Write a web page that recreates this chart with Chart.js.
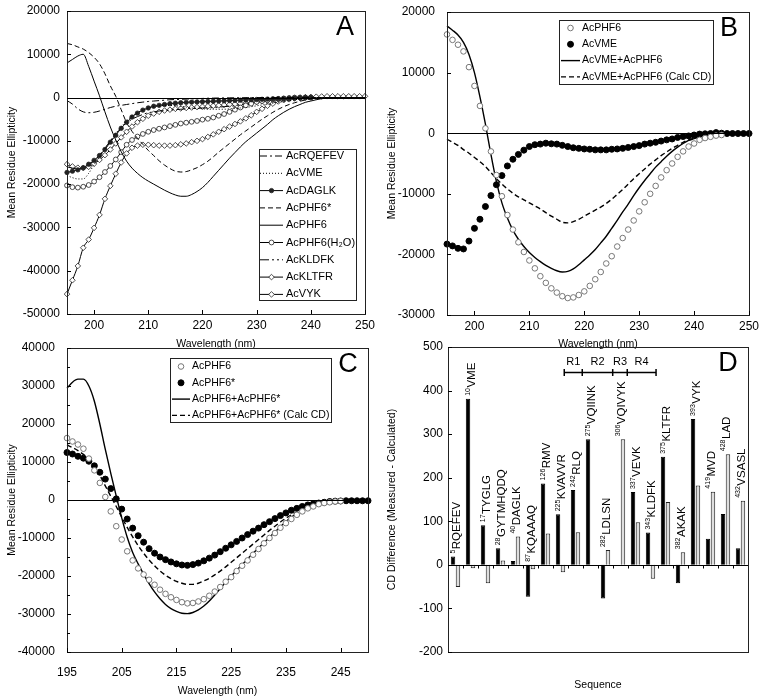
<!DOCTYPE html>
<html><head><meta charset="utf-8">
<script src="https://cdn.jsdelivr.net/npm/chart.js@4.4.1/dist/chart.umd.min.js"></script>
<style>
html,body{margin:0;padding:0;background:#fff;width:763px;height:697px;overflow:hidden}
canvas{position:absolute}
</style></head><body>
<canvas id="cA" style="left:0px;top:0px" width="380" height="350"></canvas>
<canvas id="cB" style="left:380px;top:0px" width="383" height="350"></canvas>
<canvas id="cC" style="left:0px;top:340px" width="380" height="357"></canvas>
<canvas id="cD" style="left:380px;top:340px" width="383" height="357"></canvas>
<script>
// ---------------- DATA ----------------
const wavelength = [195,196,197,198,199,200,201,202,203,204,
  205,206,207,208,209,210,211,212,213,214,
  215,216,217,218,219,220,221,222,223,224,
  225,226,227,228,229,230,231,232,233,234,
  235,236,237,238,239,240,241,242,243,244,
  245,246,247,248,249,250];
const xTicksAB = [200,210,220,230,240,250];
const xTicksC = [195,205,215,225,235,245];

// Panel A
const aRQEFEV = [-700,-1500,-2600,-3300,-3500,-3400,-3100,-2700,-2300,-2000,
  -1800,-1600,-1400,-1200,-1050,-900,-800,-700,-600,-500,
  -450,-400,-350,-300,-250,-200,-150,-120,-100,-80,
  -60,-50,-40,-30,-20,-10,0,0,0,0,
  0,0,0,0,0,0,0,0,0,0,
  0,0,0,0,0,0];
const aVME = [-18000,-18500,-18800,-18800,-17500,-15500,-13800,-11800,-10000,-8300,
  -6800,-5400,-4300,-3500,-2900,-2400,-2100,-1900,-1800,-1800,
  -1900,-2000,-2200,-2400,-2500,-2600,-2700,-2700,-2700,-2700,
  -2600,-2500,-2400,-2300,-2100,-1900,-1700,-1500,-1300,-1100,
  -900,-700,-500,-350,-200,-100,0,0,0,0,
  0,0,0,0,0,0];
const aDAGLK = [-17300,-17000,-16700,-16200,-15400,-14500,-13400,-12000,-10300,-8700,
  -7100,-5700,-4500,-3600,-2900,-2400,-2000,-1800,-1600,-1400,
  -1300,-1200,-1100,-1050,-1000,-950,-900,-850,-800,-750,
  -700,-650,-600,-550,-500,-450,-400,-350,-300,-250,
  -200,-150,-100,-50,0,0,null,null,null,null,
  null,null,null,null,null,null];
const aPHF6star = [12500,12200,11700,11200,10400,9300,7800,5500,2700,300,
  -2800,-5800,-7800,-9400,-10800,-12200,-13400,-14600,-15600,-16400,
  -17000,-17200,-17100,-16700,-16200,-15500,-14700,-13700,-12600,-11600,
  -10600,-9600,-8600,-7700,-6800,-5900,-5000,-4200,-3400,-2700,
  -2100,-1600,-1200,-850,-550,-300,-150,-50,0,0,
  0,0,0,0,0,0];
const aPHF6 = [8000,8800,9600,10000,7200,3800,400,-3300,-6800,-9800,
  -12500,-14700,-16300,-17500,-18500,-19300,-20000,-20700,-21400,-22000,
  -22500,-22800,-22800,-22400,-21700,-20800,-19600,-18200,-16800,-15400,
  -14000,-12700,-11400,-10200,-9200,-8200,-7200,-6200,-5100,-4200,
  -3400,-2700,-2100,-1600,-1100,-800,-500,-250,-100,0,
  0,0,0,0,0,0];
const aPHF6water = [-20300,-20700,-20800,-20600,-20200,-19400,-18400,-17200,-15800,-14300,
  -12600,-10900,-9800,-9000,-8400,-7900,-7500,-7200,-6900,-6600,
  -6300,-6000,-5800,-5600,-5400,-5100,-4900,-4600,-4200,-3800,
  -3300,-2800,-2300,-1800,-1400,-1000,-800,-600,-400,-300,
  -200,-100,0,0,0,0,null,null,null,null,
  null,null,null,null,null,null];
const aKLDFK = [-16000,-16300,-16500,-16300,-15500,-14500,-13200,-11700,-10000,-8500,
  -7000,-5900,-5000,-4400,-3900,-3500,-3300,-3100,-3000,-2900,
  -2800,-2700,-2600,-2500,-2500,-2400,-2400,-2300,-2200,-2100,
  -2000,-1900,-1700,-1500,-1300,-1100,-900,-750,-600,-450,
  -350,-250,-150,-100,-50,0,0,0,0,0,
  0,0,0,0,0,0];
const aKLTFR = [-15400,-15900,-16200,-16300,-16000,-15300,-14400,-13300,-12000,-10600,
  -9200,-7900,-6700,-5700,-4900,-4200,-3700,-3300,-3000,-2800,
  -2600,-2500,-2400,-2300,-2200,-2100,-2000,-1900,-1800,-1700,
  -1600,-1500,-1400,-1300,-1150,-1000,-850,-700,-550,-400,
  -300,-200,-100,0,100,150,200,250,300,300,
  300,300,300,300,300,300];
const aVYK = [-45400,-42200,-38900,-34700,-32800,-30100,-27100,-23400,-20400,-17600,
  -15000,-12900,-11600,-11100,-10900,-10900,-11000,-11100,-11100,-11100,
  -11000,-10800,-10600,-10300,-10000,-9600,-9100,-8500,-7900,-7300,
  -6700,-6100,-5500,-4800,-4100,-3300,-2600,-1900,-1400,-900,
  -600,-400,-200,-100,0,100,null,null,null,null,
  null,null,null,null,null,null];

// Panel B
const bPHF6 = [16300,15400,14600,13500,10900,7800,4500,800,-3000,-6900,
  -10400,-13500,-15900,-18000,-19600,-21000,-22300,-23600,-24700,-25600,
  -26300,-26900,-27200,-27100,-26700,-26100,-25200,-24100,-22900,-21500,
  -20300,-18700,-17300,-15900,-14400,-12900,-11400,-10000,-8700,-7300,
  -6100,-5000,-3900,-3000,-2200,-1700,-1100,-800,-600,-400,
  -300,null,null,null,null,null];
const bVME = [-18300,-18600,-19000,-19100,-17800,-15700,-14200,-12100,-10300,-8500,
  -7000,-5400,-4300,-3500,-2800,-2200,-1900,-1800,-1650,-1750,
  -1800,-2000,-2200,-2400,-2500,-2600,-2650,-2750,-2750,-2750,
  -2650,-2600,-2500,-2350,-2200,-2050,-1800,-1650,-1500,-1300,
  -1100,-950,-700,-550,-450,-300,-150,-100,-50,100,
  0,-50,-50,-50,-50,-50];
const bMixed = [17700,17000,16200,15000,13000,10000,6000,1500,-3500,-8000,
  -11500,-14000,-16000,-17500,-18700,-19700,-20500,-21200,-21800,-22300,
  -22700,-22900,-22800,-22400,-21700,-20900,-20100,-19200,-18100,-17000,
  -15700,-14400,-13000,-11700,-10300,-9000,-7800,-6700,-5600,-4700,
  -3800,-3000,-2300,-1700,-1200,-900,-600,-400,-200,-100,
  0,0,0,0,0,0];
const bCalc = [-1000,-1500,-2000,-2700,-3300,-4000,-4700,-5500,-6500,-7500,
  -8400,-9200,-9900,-10500,-11000,-11500,-12000,-12500,-13100,-13700,
  -14200,-14700,-14800,-14600,-14200,-13700,-13200,-12700,-12200,-11600,
  -10900,-10100,-9300,-8400,-7500,-6700,-5900,-5100,-4400,-3700,
  -3100,-2500,-2000,-1500,-1100,-800,-500,-300,-150,0,
  0,null,null,null,null,null];

// Panel C
const cPHF6 = bPHF6;
const cPHF6star = [12500,12100,11500,11000,10200,9000,7300,5500,3000,300,
  -2400,-5000,-7400,-9400,-11100,-12800,-14000,-15000,-15700,-16300,
  -16800,-17100,-17200,-17000,-16600,-16000,-15300,-14500,-13600,-12700,
  -11800,-10900,-10000,-9100,-8200,-7400,-6500,-5700,-4900,-4100,
  -3400,-2700,-2200,-1700,-1300,-1000,-800,-600,-400,-300,
  -250,-200,-200,-200,-200,-200];
const cMixed = [29400,31000,31800,31800,30000,26000,20000,13300,7000,1000,
  -4700,-9800,-13800,-16800,-19500,-22000,-24200,-26000,-27500,-28600,
  -29300,-29800,-29900,-29600,-28900,-27900,-26600,-25000,-23300,-21600,
  -20000,-18500,-17000,-15500,-14000,-12600,-11200,-9800,-8400,-7000,
  -5700,-4500,-3500,null,null,null,null,null,null,null,
  null,null,null,null,null,null];
const cCalc = [14500,13800,13000,12000,10800,9000,6500,3700,1000,-1700,
  -4500,-7200,-9700,-12000,-14000,-15800,-17300,-18700,-19800,-20700,
  -21400,-21900,-22200,-22200,-21900,-21300,-20600,-19700,-18700,-17600,
  -16400,-15200,-14000,-12800,-11600,-10400,-9200,-8000,-6900,-5800,
  -4800,-3900,-3100,null,null,null,null,null,null,null,
  null,null,null,null,null,null];

// Panel D
const dResidueNumbers = ['5','10','17','28','40','87','126','225','242','275','282','306','337','343','375','382','393','419','428','432'];
const dMotifs = ['RQEFEV','VME','TYGLG','GYTMHQDQ','DAGLK','KQAAAQ','RMV','KVAVVR','RLQ','VQIINK','LDLSN','VQIVYK','VEVK','KLDFK','KLTFR','AKAK','VYK','MVD','LAD','VSASL'];
const dBlack = [19,381,91,38,9,-73,187,116,172,288,-77,0,167,74,248,-42,335,60,117,38];
const dGray = [-51,-8,-42,10,65,-10,72,-17,75,0,34,288,98,-32,144,29,182,168,254,147];
const repeatNames = ['R1','R2','R3','R4'];
const repeatBounds = [7.75,8.95,10.98,11.95,13.87]; // in category units from the axis start
const repeatLevel = 443;
const repeatLabelLevel = 466;

// ---------------- HELPERS ----------------
const FONT = '"Liberation Sans", Arial, Helvetica, sans-serif';
Chart.defaults.font.family = FONT;
Chart.defaults.color = '#000';
const pts = ys => wavelength.map((x, i) => ({x: x, y: ys[i]}));

const extras = {
  cA: {letter: 'A', legend: {box: [259, 149, 97, 151], rowY: 156, rowH: 17.3, x1: 260, x2: 283, tx: 286, font: '11px ' + FONT}},
  cB: {letter: 'B', legend: {box: [179, 20, 154, 64], rowY: 28, rowH: 16.3, x1: 181, x2: 200, tx: 202, font: '10.5px ' + FONT}},
  cC: {letter: 'C', legend: {box: [170, 18, 161, 64], rowY: 26.5, rowH: 16.3, x1: 172, x2: 190, tx: 192, font: '10.5px ' + FONT}, minor: 5000},
  cD: {letter: 'D'}
};

function drawMarker(ctx, ds, x, y) {
  const r = ds.pointRadius;
  ctx.save();
  ctx.setLineDash([]);
  ctx.lineWidth = ds.pointBorderWidth || 1;
  ctx.strokeStyle = ds.pointBorderColor || '#000';
  ctx.fillStyle = ds.pointBackgroundColor || '#000';
  ctx.beginPath();
  if (ds.pointStyle === 'rectRot') {
    ctx.moveTo(x, y - r); ctx.lineTo(x + r, y); ctx.lineTo(x, y + r); ctx.lineTo(x - r, y); ctx.closePath();
  } else {
    ctx.arc(x, y, r, 0, Math.PI * 2);
  }
  ctx.fill(); ctx.stroke();
  ctx.restore();
}

const framePlugin = {
  id: 'framePlugin',
  afterDatasetsDraw(chart) {
    const ex = extras[chart.canvas.id];
    const {ctx, chartArea: a, scales} = chart;
    ctx.save();
    ctx.strokeStyle = '#222'; ctx.lineWidth = 1;
    ctx.strokeRect(Math.round(a.left) + 0.5, Math.round(a.top) + 0.5, Math.round(a.right - a.left), Math.round(a.bottom - a.top));
    const y0 = Math.round(scales.y.getPixelForValue(0)) + 0.5;
    ctx.strokeStyle = '#000';
    ctx.beginPath(); ctx.moveTo(a.left, y0); ctx.lineTo(a.right, y0); ctx.stroke();
    // inside tick marks
    ctx.beginPath();
    scales.y.ticks.forEach(t => { const p = Math.round(scales.y.getPixelForValue(t.value)) + 0.5; ctx.moveTo(a.left, p); ctx.lineTo(a.left + 4, p); });
    if (ex.minor) {
      for (let v = scales.y.min; v <= scales.y.max; v += ex.minor) { const p = Math.round(scales.y.getPixelForValue(v)) + 0.5; ctx.moveTo(a.left, p); ctx.lineTo(a.left + 3, p); }
    }
    if (scales.x.type === 'linear') {
      scales.x.ticks.forEach(t => { const p = Math.round(scales.x.getPixelForValue(t.value)) + 0.5; ctx.moveTo(p, a.bottom); ctx.lineTo(p, a.bottom - 4); });
    }
    ctx.stroke();
    // panel letter
    ctx.fillStyle = '#000';
    ctx.font = '27px ' + FONT;
    ctx.textAlign = 'center'; ctx.textBaseline = 'alphabetic';
    ctx.fillText(ex.letter, a.right - 20, a.top + 24);
    // legend
    const o = ex.legend;
    if (o) {
      const [bx, by, bw, bh] = o.box;
      ctx.fillStyle = '#fff'; ctx.fillRect(bx, by, bw, bh);
      ctx.strokeStyle = '#222'; ctx.strokeRect(bx + 0.5, by + 0.5, bw, bh);
      ctx.font = o.font; ctx.textAlign = 'left'; ctx.textBaseline = 'middle';
      chart.data.datasets.forEach((ds, i) => {
        const y = o.rowY + i * o.rowH;
        if (ds.showLine !== false) {
          ctx.save();
          ctx.beginPath(); ctx.setLineDash(ds.borderDash || []);
          ctx.lineWidth = ds.borderWidth || 1; ctx.strokeStyle = ds.borderColor || '#000';
          ctx.moveTo(o.x1, y); ctx.lineTo(o.x2, y); ctx.stroke();
          ctx.restore();
        }
        if (ds.pointRadius > 0) drawMarker(ctx, ds, (o.x1 + o.x2) / 2, y);
        ctx.fillStyle = '#000';
        ctx.fillText(ds.label, o.tx, y);
      });
    }
    ctx.restore();
  }
};

const barLabelPlugin = {
  id: 'barLabelPlugin',
  afterDatasetsDraw(chart) {
    if (chart.canvas.id !== 'cD') return;
    const {ctx, chartArea: a, scales: {x, y}} = chart;
    const step = x.getPixelForValue(1) - x.getPixelForValue(0);
    const px = u => x.getPixelForValue(0) + (u - 0.5) * step;
    const y0 = Math.round(y.getPixelForValue(0)) + 0.5;
    ctx.save();
    ctx.strokeStyle = '#000'; ctx.lineWidth = 1;
    ctx.beginPath();
    for (let i = 1; i < dMotifs.length; i++) { const p = Math.round(px(i)) + 0.5; ctx.moveTo(p, y0); ctx.lineTo(p, y0 + 3); }
    ctx.stroke();
    // residue labels
    ctx.fillStyle = '#000';
    dMotifs.forEach((m, i) => {
      const top = Math.max(0, dBlack[i], dGray[i]);
      const cx = x.getPixelForValue(i) + 1;
      const by = y.getPixelForValue(top) - 3;
      ctx.save();
      ctx.translate(cx, by);
      ctx.rotate(-Math.PI / 2);
      ctx.textAlign = 'left'; ctx.textBaseline = 'middle';
      ctx.font = '7px ' + FONT;
      ctx.fillText(dResidueNumbers[i], 0, -3.5);
      const w = ctx.measureText(dResidueNumbers[i]).width;
      ctx.font = '11.5px ' + FONT;
      ctx.fillText(m, w + 0.5, 0);
      ctx.restore();
    });
    // repeat bracket
    const ry = Math.round(y.getPixelForValue(repeatLevel)) + 0.5;
    ctx.lineWidth = 1.5;
    ctx.beginPath();
    ctx.moveTo(px(repeatBounds[0]), ry); ctx.lineTo(px(repeatBounds[repeatBounds.length - 1]), ry);
    repeatBounds.forEach(u => { ctx.moveTo(px(u), ry - 3.5); ctx.lineTo(px(u), ry + 3.5); });
    ctx.stroke();
    ctx.font = '11px ' + FONT; ctx.textAlign = 'center'; ctx.textBaseline = 'middle';
    const ly = y.getPixelForValue(repeatLabelLevel);
    repeatNames.forEach((n, i) => ctx.fillText(n, (px(repeatBounds[i]) + px(repeatBounds[i + 1])) / 2, ly));
    ctx.restore();
  }
};
Chart.register(framePlugin, barLabelPlugin);

function noPad(s) { s.paddingTop = 0; s.paddingBottom = 0; s.paddingLeft = 0; s.paddingRight = 0; }
function lineDs(label, ys, extra) {
  return Object.assign({label: label, data: pts(ys), borderColor: '#000', borderWidth: 1, pointRadius: 0,
    fill: false, clip: false, cubicInterpolationMode: 'monotone', spanGaps: false}, extra || {});
}
function xScale(min, max, tickVals, height, pad, titlePad) {
  return {type: 'linear', min: min, max: max,
    afterBuildTicks: s => { s.ticks = tickVals.map(v => ({value: v})); },
    afterFit: s => { s.height = height; noPad(s); },
    grid: {display: false, drawTicks: false}, border: {display: false},
    ticks: {font: {size: 12}, padding: pad, autoSkip: false, maxRotation: 0, callback: v => String(v)},
    title: {display: true, text: 'Wavelength (nm)', font: {size: 10.5}, padding: {top: 0, bottom: titlePad}}};
}
function yScale(min, max, step, width, pad, title) {
  return {type: 'linear', min: min, max: max,
    afterFit: s => { s.width = width; noPad(s); },
    grid: {display: false, drawTicks: false}, border: {display: false},
    ticks: {stepSize: step, font: {size: 12}, padding: pad, autoSkip: false, callback: v => String(v)},
    title: {display: true, text: title, font: {size: 10.5}, padding: {top: 6, bottom: 0}}};
}
const common = {responsive: false, animation: false, events: [],
  plugins: {legend: {display: false}, tooltip: {enabled: false}}};

// ---------------- PANEL A ----------------
new Chart(document.getElementById('cA'), {
  type: 'line',
  data: {datasets: [
    lineDs('AcRQEFEV', aRQEFEV, {borderDash: [7, 3, 2, 3]}),
    lineDs('AcVME', aVME, {borderDash: [1, 2]}),
    lineDs('AcDAGLK', aDAGLK, {pointRadius: 2.2, pointStyle: 'circle', pointBackgroundColor: '#222', pointBorderColor: '#222', pointBorderWidth: 0.8}),
    lineDs('AcPHF6*', aPHF6star, {borderDash: [5, 3]}),
    lineDs('AcPHF6', aPHF6),
    lineDs('AcPHF6(H₂O)', aPHF6water, {pointRadius: 2.4, pointStyle: 'circle', pointBackgroundColor: '#fff', pointBorderColor: '#222', pointBorderWidth: 0.8}),
    lineDs('AcKLDFK', aKLDFK, {borderDash: [9, 3, 2, 3, 2, 3]}),
    lineDs('AcKLTFR', aKLTFR, {pointRadius: 2.8, pointStyle: 'rectRot', pointBackgroundColor: '#fff', pointBorderColor: '#222', pointBorderWidth: 0.8}),
    lineDs('AcVYK', aVYK, {pointRadius: 2.8, pointStyle: 'rectRot', pointBackgroundColor: '#fff', pointBorderColor: '#222', pointBorderWidth: 0.8})
  ]},
  options: Object.assign({}, common, {
    layout: {padding: {left: 0, top: 11, right: 15, bottom: 0}},
    scales: {x: xScale(195, 250, xTicksAB, 36, 4, 0), y: yScale(-50000, 20000, 10000, 67, 7, 'Mean Residue Ellipticity')}
  })
});

// ---------------- PANEL B ----------------
new Chart(document.getElementById('cB'), {
  type: 'line',
  data: {datasets: [
    lineDs('AcPHF6', bPHF6, {showLine: false, pointRadius: 2.8, pointStyle: 'circle', pointBackgroundColor: '#fff', pointBorderColor: '#777', pointBorderWidth: 1}),
    lineDs('AcVME', bVME, {showLine: false, pointRadius: 3, pointStyle: 'circle', pointBackgroundColor: '#000', pointBorderColor: '#000', pointBorderWidth: 1}),
    lineDs('AcVME+AcPHF6', bMixed, {borderWidth: 1.4}),
    lineDs('AcVME+AcPHF6 (Calc CD)', bCalc, {borderWidth: 1.4, borderDash: [5, 3]})
  ]},
  options: Object.assign({}, common, {
    layout: {padding: {left: 0, top: 12, right: 14, bottom: 0}},
    scales: {x: xScale(195, 250, xTicksAB, 35, 4, 0), y: yScale(-30000, 20000, 10000, 67, 12, 'Mean Residue Ellipticity')}
  })
});

// ---------------- PANEL C ----------------
new Chart(document.getElementById('cC'), {
  type: 'line',
  data: {datasets: [
    lineDs('AcPHF6', cPHF6, {showLine: false, pointRadius: 2.8, pointStyle: 'circle', pointBackgroundColor: '#fff', pointBorderColor: '#777', pointBorderWidth: 1}),
    lineDs('AcPHF6*', cPHF6star, {showLine: false, pointRadius: 3, pointStyle: 'circle', pointBackgroundColor: '#000', pointBorderColor: '#000', pointBorderWidth: 1}),
    lineDs('AcPHF6+AcPHF6*', cMixed, {borderWidth: 1.4}),
    lineDs('AcPHF6+AcPHF6* (Calc CD)', cCalc, {borderWidth: 1.4, borderDash: [5, 3]})
  ]},
  options: Object.assign({}, common, {
    layout: {padding: {left: 0, top: 8, right: 12, bottom: 0}},
    scales: {x: xScale(195, 250, xTicksC, 45, 13, 0), y: yScale(-40000, 40000, 10000, 67, 12, 'Mean Residue Ellipticity')}
  })
});

// ---------------- PANEL D ----------------
new Chart(document.getElementById('cD'), {
  type: 'bar',
  data: {labels: dMotifs, datasets: [
    {label: 'Series 1', data: dBlack, backgroundColor: '#000', borderColor: '#000', borderWidth: 1, categoryPercentage: 0.66, barPercentage: 0.9},
    {label: 'Series 2', data: dGray, backgroundColor: '#dedede', borderColor: '#222', borderWidth: 1, categoryPercentage: 0.66, barPercentage: 0.9}
  ]},
  options: Object.assign({}, common, {
    layout: {padding: {left: 0, top: 7, right: 15, bottom: 0}},
    scales: {
      x: {type: 'category', afterFit: s => { s.height = 45; noPad(s); },
        grid: {display: false, drawTicks: false}, border: {display: false}, ticks: {display: false},
        title: {display: true, text: 'Sequence', font: {size: 10.5}, padding: {top: 0, bottom: 6}}},
      y: yScale(-200, 500, 100, 68, 5, 'CD Difference (Measured - Calculated)')
    }
  })
});
</script>
</body></html>
